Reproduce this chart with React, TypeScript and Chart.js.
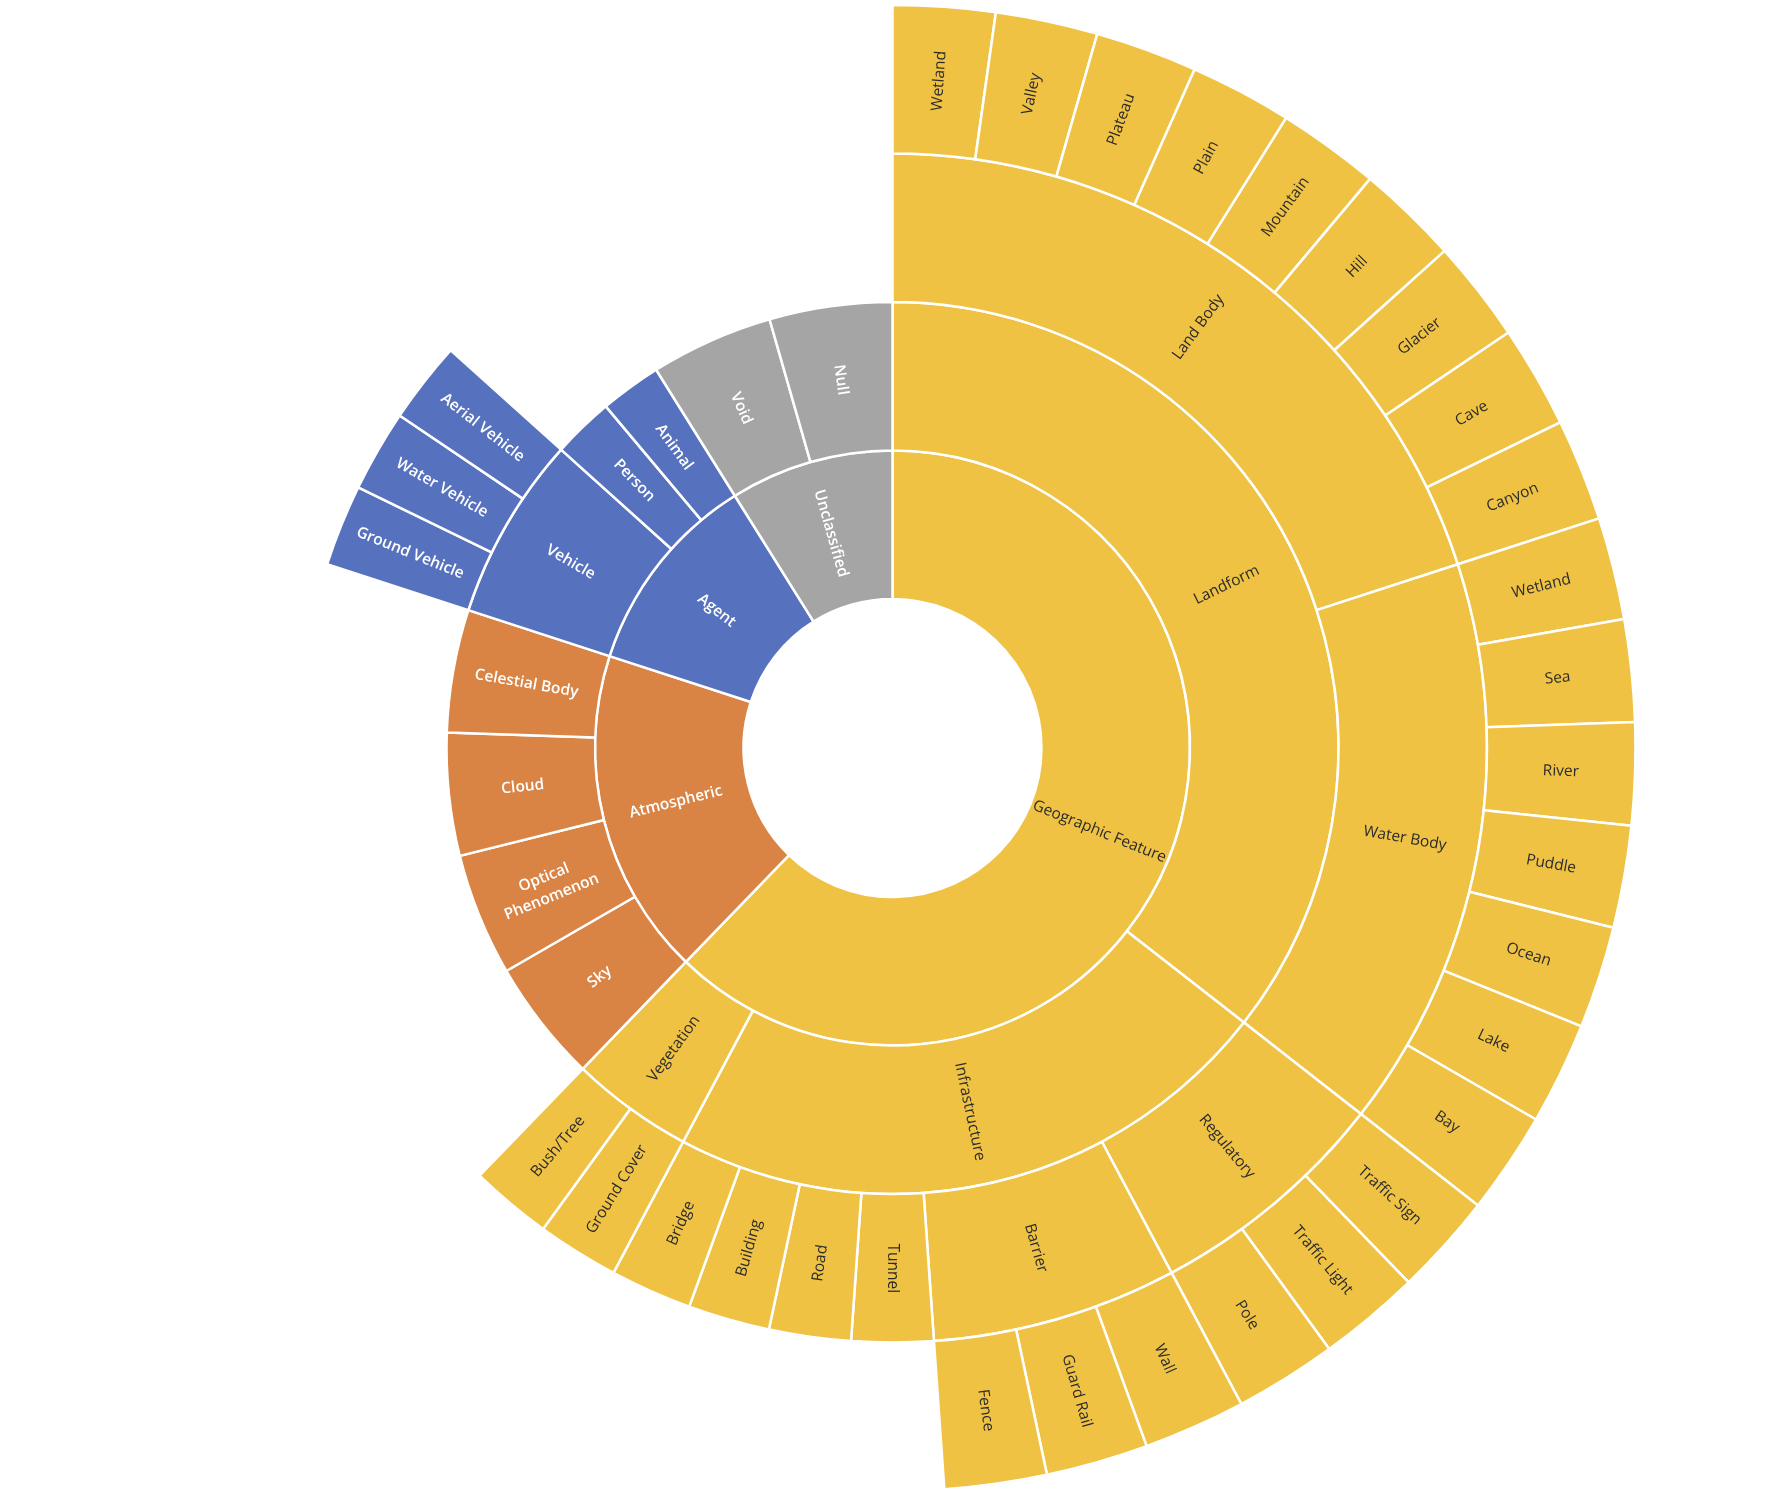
import React, { useEffect, useRef } from 'react';
import { Chart, registerables } from 'chart.js';

Chart.register(...registerables);

// ---- Data ----
const topCategories = ['Geographic Feature', 'Atmospheric', 'Agent', 'Unclassified'];
const topColors = ['#EFC244', '#D98344', '#5671BD', '#A5A5A5'];
const topTextColors = ['#2b2b2b', '#ffffff', '#ffffff', '#ffffff'];
const topTextWeights = ['400', '600', '600', '600'];

const landBodyLeaves = ['Wetland', 'Valley', 'Plateau', 'Plain', 'Mountain', 'Hill', 'Glacier', 'Cave', 'Canyon'];
const landBodyValues = [1, 1, 1, 1, 1, 1, 1, 1, 1];
const waterBodyLeaves = ['Wetland', 'Sea', 'River', 'Puddle', 'Ocean', 'Lake', 'Bay'];
const waterBodyValues = [1, 1, 1, 1, 1, 1, 1];
const regulatoryLeaves = ['Traffic Sign', 'Traffic Light', 'Pole'];
const regulatoryValues = [1, 1, 1];
const barrierLeaves = ['Wall', 'Guard Rail', 'Fence'];
const barrierValues = [1, 1, 1];
const infrastructureLeaves = ['Tunnel', 'Road', 'Building', 'Bridge'];
const infrastructureValues = [1, 1, 1, 1];
const vegetationLeaves = ['Ground Cover', 'Bush/Tree'];
const vegetationValues = [1, 1];
const atmosphericLeaves = ['Sky', 'Optical Phenomenon', 'Cloud', 'Celestial Body'];
const atmosphericValues = [2, 2, 2, 2];
const vehicleLeaves = ['Ground Vehicle', 'Water Vehicle', 'Aerial Vehicle'];
const vehicleValues = [1, 1, 1];
const agentLeaves = ['Person', 'Animal'];
const agentValues = [1, 1];
const unclassifiedLeaves = ['Void', 'Null'];
const unclassifiedValues = [2, 2];

type TNode = { name: string; value?: number; children?: TNode[] };
type Seg = { name: string; value: number; top: number; gap: boolean };

const leaves = (names: string[], values: number[]): TNode[] =>
  names.map((name, i) => ({ name, value: values[i] }));

const tree: TNode[] = [
  {
    name: topCategories[0],
    children: [
      {
        name: 'Landform',
        children: [
          { name: 'Land Body', children: leaves(landBodyLeaves, landBodyValues) },
          { name: 'Water Body', children: leaves(waterBodyLeaves, waterBodyValues) },
        ],
      },
      {
        name: 'Infrastructure',
        children: [
          { name: 'Regulatory', children: leaves(regulatoryLeaves, regulatoryValues) },
          { name: 'Barrier', children: leaves(barrierLeaves, barrierValues) },
          ...leaves(infrastructureLeaves, infrastructureValues),
        ],
      },
      { name: 'Vegetation', children: leaves(vegetationLeaves, vegetationValues) },
    ],
  },
  { name: topCategories[1], children: leaves(atmosphericLeaves, atmosphericValues) },
  {
    name: topCategories[2],
    children: [
      { name: 'Vehicle', children: leaves(vehicleLeaves, vehicleValues) },
      ...leaves(agentLeaves, agentValues),
    ],
  },
  { name: topCategories[3], children: leaves(unclassifiedLeaves, unclassifiedValues) },
];

const totalOf = (n: TNode): number =>
  n.children ? n.children.reduce((s, c) => s + totalOf(c), 0) : n.value || 0;

function ringSegments(depth: number): Seg[] {
  const segs: Seg[] = [];
  const walk = (n: TNode, d: number, top: number) => {
    if (d === depth) {
      segs.push({ name: n.name, value: totalOf(n), top, gap: false });
    } else if (n.children) {
      n.children.forEach((c) => walk(c, d + 1, top));
    } else {
      const last = segs[segs.length - 1];
      if (last && last.gap) last.value += totalOf(n);
      else segs.push({ name: '', value: totalOf(n), top, gap: true });
    }
  };
  tree.forEach((n, i) => walk(n, 1, i));
  return segs;
}

const FONT_SIZE = 15.5;
const fontFor = (w: string) => `${w} ${FONT_SIZE}px "Open Sans", "Noto Sans", sans-serif`;

const labelPlugin = {
  id: 'sunburstLabels',
  afterDatasetsDraw(chart: any) {
    const ctx = chart.ctx as CanvasRenderingContext2D;
    ctx.save();
    ctx.textAlign = 'center';
    ctx.textBaseline = 'middle';
    chart.data.datasets.forEach((ds: any, di: number) => {
      const meta = chart.getDatasetMeta(di);
      meta.data.forEach((arc: any, i: number) => {
        const seg: Seg = ds.segs[i];
        if (!seg || seg.gap) return;
        ctx.font = fontFor(topTextWeights[seg.top]);
        const p = arc.getProps(['x', 'y', 'startAngle', 'endAngle', 'innerRadius', 'outerRadius'], true);
        const mid = (p.startAngle + p.endAngle) / 2;
        const r = (p.innerRadius + p.outerRadius) / 2;
        const px = p.x + r * Math.cos(mid);
        const py = p.y + r * Math.sin(mid);
        let rot = mid;
        while (rot > Math.PI / 2 + 1e-6) rot -= Math.PI;
        while (rot <= -Math.PI / 2 + 1e-6) rot += Math.PI;
        const maxW = p.outerRadius - p.innerRadius - 3;
        const words = seg.name.split(' ');
        const lines: string[] = [];
        let cur = '';
        words.forEach((w) => {
          const test = cur ? cur + ' ' + w : w;
          if (ctx.measureText(test).width > maxW && cur) {
            lines.push(cur);
            cur = w;
          } else cur = test;
        });
        if (cur) lines.push(cur);
        const lh = FONT_SIZE * 1.33;
        ctx.save();
        ctx.translate(px, py);
        ctx.rotate(rot);
        ctx.fillStyle = topTextColors[seg.top];
        lines.forEach((ln, k) => {
          ctx.fillText(ln, 0, (k - (lines.length - 1) / 2) * lh);
        });
        ctx.restore();
      });
    });
    ctx.restore();
  },
};

export default function App() {
  const canvasRef = useRef<HTMLCanvasElement | null>(null);

  useEffect(() => {
    const canvas = canvasRef.current;
    if (!canvas) return;
    const rings = [4, 3, 2, 1].map((d) => ringSegments(d));
    const datasets = rings.map((segs) => ({
      data: segs.map((s) => s.value),
      backgroundColor: segs.map((s) => (s.gap ? 'rgba(0,0,0,0)' : topColors[s.top])),
      borderColor: '#ffffff',
      borderWidth: segs.map((s) => (s.gap ? 0 : 2.5)),
      hoverOffset: 0,
      segs,
    }));
    const longest = rings.reduce((a, b) => (b.length > a.length ? b : a), rings[0]);
    const chart = new Chart(canvas, {
      type: 'doughnut',
      data: { labels: longest.map((s) => s.name), datasets: datasets as any },
      options: {
        responsive: false,
        maintainAspectRatio: false,
        animation: false,
        events: [],
        radius: 743,
        cutout: '20.05%',
        rotation: 0,
        layout: { padding: { left: 0, top: 0, right: 3, bottom: 3 } },
        plugins: { legend: { display: false }, tooltip: { enabled: false } },
      } as any,
      plugins: [labelPlugin],
    });
    return () => chart.destroy();
  }, []);

  return (
    <canvas
      ref={canvasRef}
      width={1788}
      height={1499}
      style={{ position: 'absolute', left: 0, top: 0, width: 1788, height: 1499 }}
    />
  );
}
